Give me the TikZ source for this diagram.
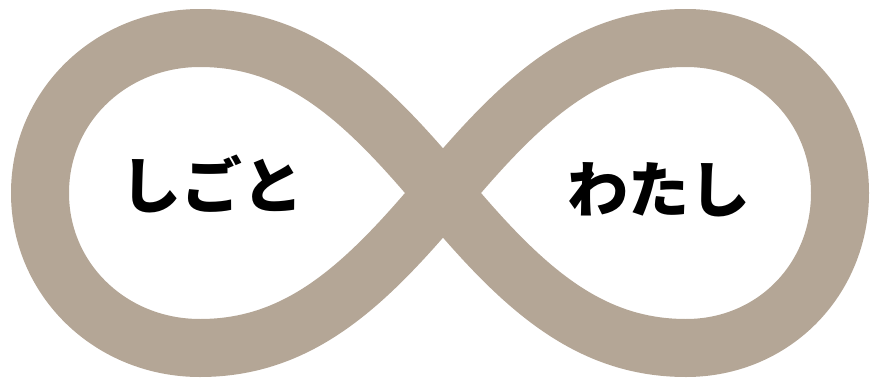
\documentclass[tikz,border=0pt]{standalone}
\usepackage{fontspec}
\newfontfamily\jpfont{Noto Sans CJK JP}
\usetikzlibrary{positioning}
\definecolor{taupe}{RGB}{180,166,150}
\tikzset{
  loopband/.style={draw=#1,line width=58pt,line join=round},
  loopband/.default=taupe,
  word/.style={font=\jpfont\bfseries\fontsize{61}{64}\selectfont,text=black,inner sep=0pt},
}
\begin{document}
\begin{tikzpicture}[x=1pt,y=-1pt]
  \useasboundingbox (0,0) rectangle (871,378);
  \coordinate (mid) at (443,193);
  % the figure eight
  \draw[loopband] (mid) .. controls (520,101) and (586,38) .. (686,38)
    .. controls (773,38) and (840,106) .. (840,193)
    .. controls (840,280) and (773,348) .. (686,348)
    .. controls (586,348) and (520,285) .. (mid)
    .. controls (366,101) and (300,38) .. (200,38)
    .. controls (111,38) and (40,106) .. (40,193)
    .. controls (40,280) and (111,348) .. (200,348)
    .. controls (300,348) and (366,285) .. (mid) -- cycle;
  \node[word] (work) at (212,184) {しごと};
  \node[word] (self) at (659,190) {わたし};
\end{tikzpicture}
\end{document}
